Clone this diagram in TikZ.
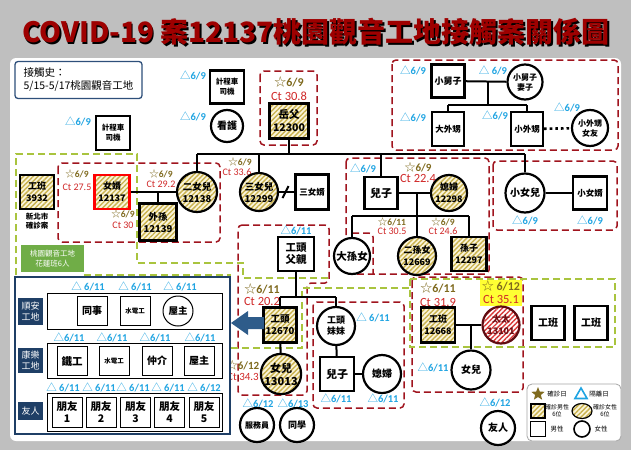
\documentclass[tikz,border=0pt]{standalone}
\usepackage{fontspec}
\setmainfont{Carlito}
\newfontfamily\cjk{Noto Sans CJK TC}
\usetikzlibrary{patterns.meta,shapes.geometric}
\definecolor{bgrey}{HTML}{BFBFBF}
\definecolor{dred}{HTML}{A0141E}
\definecolor{lgreen}{HTML}{A9C43E}
\definecolor{tblue}{HTML}{1FA4E2}
\definecolor{sgold}{HTML}{7F6A1E}
\definecolor{ctred}{HTML}{D02828}
\definecolor{hatchc}{HTML}{C9B24E}
\definecolor{hatchbg}{HTML}{FBF5DC}
\definecolor{rhatchc}{HTML}{D83A3A}
\definecolor{navy}{HTML}{2E4F7A}
\definecolor{navyd}{HTML}{1F3F66}
\definecolor{titred}{HTML}{9E0000}
\definecolor{gbox}{HTML}{70AD47}
\definecolor{arrblue}{HTML}{2E5C8A}
\definecolor{hiy}{HTML}{FFFF33}
\newcommand{\tlab}[1]{{\cjk\mdseries △}\textbf{#1}}
\newcommand{\slab}[1]{{\cjk\mdseries ☆}\textbf{#1}}
\begin{document}
\begin{tikzpicture}[x=1pt,y=-1pt,
 pb/.style={draw, line width=2.2pt, minimum width=34pt, minimum height=34pt, inner sep=0pt, align=center, fill=white},
 pc/.style={circle, draw, line width=2.2pt, minimum size=38pt, inner sep=0pt, align=center, fill=white},
 fsz/.style 2 args={font=\cjk\bfseries\fontsize{#1}{#2}\selectfont},
 hatch/.style={preaction={fill=hatchbg}, pattern={Lines[angle=45,distance=3.4pt,line width=1.4pt]}, pattern color=hatchc},
 rhatch/.style={preaction={fill=white}, pattern={Lines[angle=45,distance=3.4pt,line width=1.4pt]}, pattern color=rhatchc},
 tri/.style={text=tblue, font=\fontsize{10.5}{12}\selectfont, inner sep=0pt},
 sdS/.style={text=sgold, font=\fontsize{9.5}{11}\selectfont, inner sep=0pt},
 sdL/.style={text=sgold, font=\fontsize{12}{13}\selectfont, inner sep=0pt},
 ctS/.style={text=ctred, font=\fontsize{10}{11}\selectfont, inner sep=0pt},
 ctL/.style={text=ctred, font=\fontsize{12.5}{13}\selectfont, inner sep=0pt},
 rdash/.style={draw=dred, line width=1.5pt, dash pattern=on 7pt off 4pt, rounded corners=4pt},
 gdash/.style={draw=lgreen, line width=1.5pt, dash pattern=on 7pt off 4pt},
 fam/.style={line width=2pt},
 sp/.style={draw, line width=1pt, minimum width=30pt, minimum height=29pt, inner sep=0pt, align=center, fill=white},
 lab/.style={fill=navyd, text=white, minimum width=25pt, inner sep=0pt, align=center, font=\cjk\fontsize{9}{11}\selectfont},
 leg/.style={font=\cjk\fontsize{6.5}{7}\selectfont, inner sep=0pt, align=center}
]
\useasboundingbox (0,0) rectangle (631,450);
\fill[bgrey] (0,0) rectangle (631,450);
\fill[white, rounded corners=6pt] (10,58) rectangle (621,441);
% title
\node[text=black, fsz={28}{30}] (titsh) at (317.5,33.5) {COVID-19 案12137桃園觀音工地接觸案關係圖};
\node[text=titred, fsz={28}{30}] (title) at (316,32) {COVID-19 案12137桃園觀音工地接觸案關係圖};
% history
\node[draw=navy, line width=1.3pt, rounded corners=3pt, minimum width=127pt, minimum height=37pt, align=left, font=\cjk\fontsize{10.5}{13}\selectfont, inner sep=3pt] (hist) at (78.5,80) {接觸史：\\5/15-5/17桃園觀音工地};
% dashed groups
\draw[rdash] (260,71) rectangle (317,145);
\draw[rdash] (392,60) rectangle (618,150);
\draw[rdash] (58,163) rectangle (220,242);
\draw[rdash] (346,158) rectangle (489,274);
\draw[rdash] (352,233) -- (373,233) -- (373,274);
\draw[rdash] (493,161) rectangle (617,230);
\draw[rdash] (238,225) -- (329,225) -- (329,283) -- (307,283) -- (307,395) -- (238,395) -- cycle;
\draw[rdash] (313,302) rectangle (404,408);
\draw[rdash] (412,277) rectangle (523,392);
\draw[gdash] (16,275) -- (16,154) -- (137,154) -- (137,263) -- (243,263) -- (243,278) -- (330,278);
\draw[gdash] (84,275) -- (230,275) -- (230,348) -- (302,348) -- (302,288) -- (410,288);
\draw[gdash] (410,279) rectangle (615,347);
% taxi / nurse
\node[tri] (t1) at (78,121) {\tlab{6/9}};
\node[pb, fsz={7.5}{10}] (taxiA) at (113,133) {計程車\\司機};
\node[tri] (t2) at (193,75) {\tlab{6/9}};
\node[pb, fsz={7.5}{10}, minimum height=33pt] (taxiB) at (227,87) {計程車\\司機};
\node[tri] (t3) at (193,116) {\tlab{6/9}};
\node[pc, minimum size=32pt, fsz={10}{12}] (nurse) at (227,126) {看護};
% father-in-law
\node[sdL] (s1) at (289,82) {\slab{6/9}};
\node[ctL] (c1) at (289,96) {Ct 30.8};
\node[pb, hatch, minimum width=39pt, minimum height=35pt, fsz={10.5}{13}] (yuefu) at (289,121) {岳父\\12300};
% children row
\coordinate (barL) at (197,154);
\coordinate (barR) at (525,154);
\node[sdS] (s2) at (161,174) {\slab{6/9}};
\node[ctS] (c2) at (161,184) {Ct 29.2};
\node[pc, hatch, minimum size=40pt, fsz={9.5}{12}] (d2) at (197,192) {二女兒\\12138};
\node[sdS] (s3) at (240,162) {\slab{6/9}};
\node[ctS] (c3) at (237,172) {Ct 33.6};
\node[pc, hatch, fsz={9.5}{12}] (d3) at (259,192) {三女兒\\12299};
\node[pb, fsz={8.5}{10}, minimum width=33pt, minimum height=35pt] (d3h) at (312,192) {三女婿};
\node[tri] (t4) at (363,168) {\tlab{6/9}};
\node[pb, fsz={11}{12}, minimum width=33pt, minimum height=32pt] (son) at (381,193) {兒子};
\node[sdS, font=\fontsize{11}{12}\selectfont] (s4) at (418,167) {\slab{6/9}};
\node[ctL] (c4) at (418,178) {Ct 22.4};
\node[pc, hatch, minimum size=36pt, fsz={9}{12}] (swife) at (449,193) {媳婦\\12298};
\node[pc, minimum size=36pt, fsz={10.5}{12}] (gd1) at (352,256) {大孫女};
\node[sdS] (s5) at (392,222) {\slab{6/11}};
\node[ctS] (c5) at (392,231) {Ct 30.5};
\node[pc, hatch, fsz={9}{12}] (gd2) at (417,256) {二孫女\\12669};
\node[sdS] (s6) at (443,222) {\slab{6/9}};
\node[ctS] (c6) at (443,231) {Ct 24.6};
\node[pb, hatch, minimum width=35pt, fsz={9}{12}] (gs) at (469,254) {孫子\\12297};
\node[pc, minimum size=39pt, fsz={10}{12}] (yd) at (525,193) {小女兒};
\node[pb, fsz={8.5}{10}, minimum height=33pt] (ydh) at (590,193) {小女婿};
\node[tri] (t5) at (525,220) {\tlab{6/9}};
\node[tri] (t6) at (590,220) {\tlab{6/9}};
% son-in-law group
\node[sdS] (s7) at (77,174) {\slab{6/9}};
\node[ctS] (c7) at (77,187) {Ct 27.5};
\node[pb, hatch, draw=red, minimum width=35pt, fsz={9}{12}] (sil) at (112,192) {女婿\\12137};
\node[sdS] (s8) at (123,214) {\slab{6/9}};
\node[ctS] (c8) at (123,225) {Ct 30};
\node[pb, hatch, minimum width=37pt, minimum height=37pt, fsz={9.5}{12}] (gson) at (158,222) {外孫\\12139};
\node[pb, hatch, fsz={9}{12}] (w3932) at (37,192) {工班\\3932};
\node[fsz={7.5}{9}, align=center, inner sep=0pt] (w3932c) at (37,221) {新北市\\確診案};
\node[fill=gbox, text=white, minimum width=63pt, minimum height=27pt, inner sep=0pt, align=center, font=\cjk\fontsize{7.5}{10}\selectfont] (glabel) at (52.5,258.5) {桃園觀音工地\\花蓮班6人};
% top-right family
\node[tri] (t7) at (413,70) {\tlab{6/9}};
\node[pb, fsz={9}{10}, minimum width=33pt, minimum height=33pt] (bil) at (448,81) {小舅子};
\node[tri] (t8) at (493,70) {{\cjk\mdseries △} \textbf{6/9}};
\node[pc, minimum size=35pt, fsz={8}{10}] (bilw) at (525,82) {小舅子\\妻子};
\node[tri] (t9) at (413,117) {\tlab{6/9}};
\node[pb, fsz={8.5}{10}, minimum width=32pt] (nep1) at (448,129) {大外甥};
\node[tri] (t10) at (495,115) {\tlab{6/9}};
\node[pb, fsz={8.5}{10}, minimum width=32pt] (nep2) at (527,129) {小外甥};
\node[tri] (t11) at (567,107) {\tlab{6/9}};
\node[pc, minimum size=36pt, fsz={8}{10}] (gf) at (590,128) {小外甥\\女友};
% foreman family
\node[tri] (t12) at (296,230) {\tlab{6/11}};
\node[pb, fsz={10.5}{12}, minimum width=36pt] (wf) at (296,254) {工頭\\父親};
\node[sdL] (s9) at (262,289) {\slab{6/11}};
\node[ctL] (c9) at (262,301) {Ct 20.2};
\node[pb, hatch, minimum width=33pt, minimum height=35pt, fsz={9.5}{12}] (boss) at (280,325) {工頭\\12670};
\node[sdS, font=\fontsize{11}{12}\selectfont] (s10) at (243,365) {\slab{6/12}};
\node[ctS, font=\fontsize{11}{12}\selectfont] (c10) at (243,377) {Ct 34.3};
\node[pc, hatch, fsz={11}{13}] (bd) at (281,374) {女兒\\13013};
\node[pc, fsz={9}{11}] (bsis) at (336,326) {工頭\\妹妹};
\node[tri] (t13) at (373,317) {{\cjk\mdseries △} \textbf{6/11}};
\node[pb, fsz={11}{12}] (bson) at (337,374) {兒子};
\node[pc, fsz={10}{12}] (bswife) at (382,374) {媳婦};
\node[tri] (t14) at (336,398) {\tlab{6/11}};
\node[tri] (t15) at (383,398) {\tlab{6/11}};
\node[tri] (t16) at (258,403) {\tlab{6/12}};
\node[tri] (t17) at (293,403) {\tlab{6/13}};
\node[pc, minimum size=34pt, fsz={8}{10}] (waiter) at (257,425) {服務員};
\node[pc, minimum size=34pt, fsz={9}{10}] (mate) at (297,425) {同學};
% worker 12668 family
\node[sdL] (s11) at (438,288) {\slab{6/11}};
\node[ctL] (c11) at (438,302) {Ct 31.9};
\fill[hiy] (480,280) rectangle (522,306);
\node[sdL] (s12) at (501,286) {{\cjk\mdseries ☆} \textbf{6/12}};
\node[ctL] (c12) at (501,299) {Ct 35.1};
\node[pb, hatch, minimum height=35pt, fsz={9}{12}] (w12668) at (438,325) {工班\\12668};
\node[pc, rhatch, draw=dred!60!black, minimum size=37pt, fsz={9}{12}, text=dred!70!black] (wife) at (501,325) {太太\\13101};
\node[tri] (t18) at (433,367) {\tlab{6/11}};
\node[pc, minimum size=39pt, fsz={10}{12}] (wd) at (471,370) {女兒};
\node[pb, fsz={10}{12}, minimum width=33pt] (w1) at (548,323) {工班};
\node[pb, fsz={10}{12}, minimum width=33pt] (w2) at (591,323) {工班};
\node[tri] (t19) at (495,402) {\tlab{6/12}};
\node[pc, minimum size=34pt, fsz={10}{12}] (friend) at (498,428) {友人};
% connectors
\draw[fam] (yuefu) -- (yuefu |- barL);
\draw[fam] (barL) -- (barR);
\draw[fam] (d2) -- (d2 |- barL);
\draw[fam] (d3) -- (d3 |- barL);
\draw[fam] (son) -- (son |- barL);
\draw[fam] (yd) -- (yd |- barL);
\draw[fam] (d3) -- (d3h);
\draw[line width=2pt] (282.5,198) -- (288.5,186);
\draw[fam] (son) -- (swife);
\coordinate (sj) at (417,193);
\coordinate (sjL) at (352,216);
\coordinate (sjR) at (469,216);
\draw[fam] (sj) -- (417,216);
\draw[fam] (sjL) -- (sjR);
\draw[fam] (gd1) -- (gd1 |- sjL);
\draw[fam] (gd2) -- (gd2 |- sjL);
\draw[fam] (gs) -- (gs |- sjL);
\draw[fam] (yd) -- (ydh);
\draw[fam] (sil) -- (d2);
\coordinate (gj) at (158,192);
\draw[fam] (gj) -- (gson);
\draw[fam] (bil) -- (bilw);
\coordinate (bj) at (488,81);
\coordinate (bjL) at (448,105);
\coordinate (bjR) at (527,105);
\draw[fam] (bj) -- (488,105);
\draw[fam] (bjL) -- (bjR);
\draw[fam] (nep1) -- (nep1 |- bjL);
\draw[fam] (nep2) -- (nep2 |- bjL);
\draw[line width=2.6pt, dash pattern=on 2.6pt off 3pt] (nep2) -- (gf);
\coordinate (fj) at (296,297);
\coordinate (fjL) at (280,297);
\coordinate (fjR) at (336,297);
\draw[fam] (wf) -- (fj);
\draw[fam] (fjL) -- (fjR);
\draw[fam] (boss) -- (boss |- fjL);
\draw[fam] (bsis) -- (bsis |- fjL);
\draw[fam] (boss) -- (bd);
\draw[fam] (bsis) -- (bson);
\draw[fam] (bson) -- (bswife);
\draw[fam] (w12668) -- (wife);
\coordinate (wj) at (471,325);
\draw[fam] (wj) -- (wd);
% left panel
\node[draw=navyd, line width=2pt, fill=white, minimum width=215pt, minimum height=157pt, inner sep=0pt] (panel) at (122.5,355.5) {};
\fill[arrblue] (264,317) -- (248,317) -- (248,311) -- (231,323) -- (248,335) -- (248,329) -- (264,329) -- cycle;
\node[lab, minimum height=27pt] (l1) at (30.5,311.5) {順安\\工地};
\node[lab, minimum height=25pt] (l2) at (30.5,360) {康樂\\工地};
\node[lab, minimum height=18pt] (l3) at (30.5,411) {友人};
\draw[line width=1pt] (47,293) rectangle (222,329);
\draw[line width=1pt] (47,343) rectangle (222,378);
\draw[line width=1pt] (47,393) rectangle (222,431);
\node[tri] (p1) at (88,286) {{\cjk\mdseries △} \textbf{6/11}};
\node[tri] (p2) at (135,286) {{\cjk\mdseries △} \textbf{6/11}};
\node[tri] (p3) at (180,286) {{\cjk\mdseries △} \textbf{6/11}};
\node[sp, fsz={10}{12}] (r11) at (92,311) {同事};
\node[sp, fsz={6.5}{8}] (r12) at (135,311) {水電工};
\node[sp, circle, minimum size=30pt, fsz={9.5}{12}] (r13) at (178,311) {屋主};
\node[tri] (p4) at (69,337) {\tlab{6/11}};
\node[tri] (p5) at (112,337) {\tlab{6/11}};
\node[tri] (p6) at (155,337) {\tlab{6/11}};
\node[tri] (p7) at (200,337) {\tlab{6/11}};
\node[sp, fsz={10.5}{12}] (r21) at (72,361) {鐵工};
\node[sp, fsz={6.5}{8}] (r22) at (114,361) {水電工};
\node[sp, fsz={10}{12}] (r23) at (157,361) {仲介};
\node[sp, fsz={10}{12}] (r24) at (199,361) {屋主};
\node[tri] (p8) at (63,387) {{\cjk\mdseries △} \textbf{6/11}};
\node[tri] (p9) at (99,387) {{\cjk\mdseries △} \textbf{6/11}};
\node[tri] (p10) at (133,387) {{\cjk\mdseries △} \textbf{6/11}};
\node[tri] (p11) at (168,387) {{\cjk\mdseries △} \textbf{6/11}};
\node[tri] (p12) at (204,387) {{\cjk\mdseries △} \textbf{6/12}};
\node[sp, minimum height=30pt, fsz={10.5}{12}] (f1) at (67,412) {朋友\\1};
\node[sp, minimum height=30pt, fsz={10.5}{12}] (f2) at (101,412) {朋友\\2};
\node[sp, minimum height=30pt, fsz={10.5}{12}] (f3) at (135.5,412) {朋友\\3};
\node[sp, minimum height=30pt, fsz={10.5}{12}] (f4) at (169.5,412) {朋友\\4};
\node[sp, minimum height=30pt, fsz={10.5}{12}] (f5) at (204,412) {朋友\\5};
% legend
\node[draw=gray!70, line width=0.8pt, rounded corners=5pt, fill=white, minimum width=94pt, minimum height=57pt, inner sep=0pt] (legend) at (574,412.5) {};
\node[star, star points=5, star point ratio=2.3, fill=sgold, minimum size=14pt, inner sep=0pt] (lst) at (538,394) {};
\node[leg] (lstt) at (557,394) {確診日};
\node[regular polygon, regular polygon sides=3, draw=tblue, line width=1.6pt, minimum size=14pt, inner sep=0pt] (ltr) at (581,395) {};
\node[leg] (ltrt) at (599,394) {隔離日};
\node[draw, line width=1.2pt, hatch, minimum size=14pt, inner sep=0pt] (lhs) at (538,411) {};
\node[leg, font=\cjk\fontsize{6}{7}\selectfont] (lhst) at (557,411) {確診男性\\6位};
\node[ellipse, draw, line width=1.2pt, hatch, minimum width=20pt, minimum height=15pt, inner sep=0pt] (lhc) at (582,411) {};
\node[leg, font=\cjk\fontsize{6}{7}\selectfont] (lhct) at (605,411) {確診女性\\6位};
\node[draw, line width=1.6pt, minimum size=15pt, inner sep=0pt] (lsq) at (538,429) {};
\node[leg] (lsqt) at (557,429) {男性};
\node[circle, draw, line width=1.6pt, minimum size=16pt, inner sep=0pt] (lci) at (582,429) {};
\node[leg] (lcit) at (601,429) {女性};
\end{tikzpicture}
\end{document}
